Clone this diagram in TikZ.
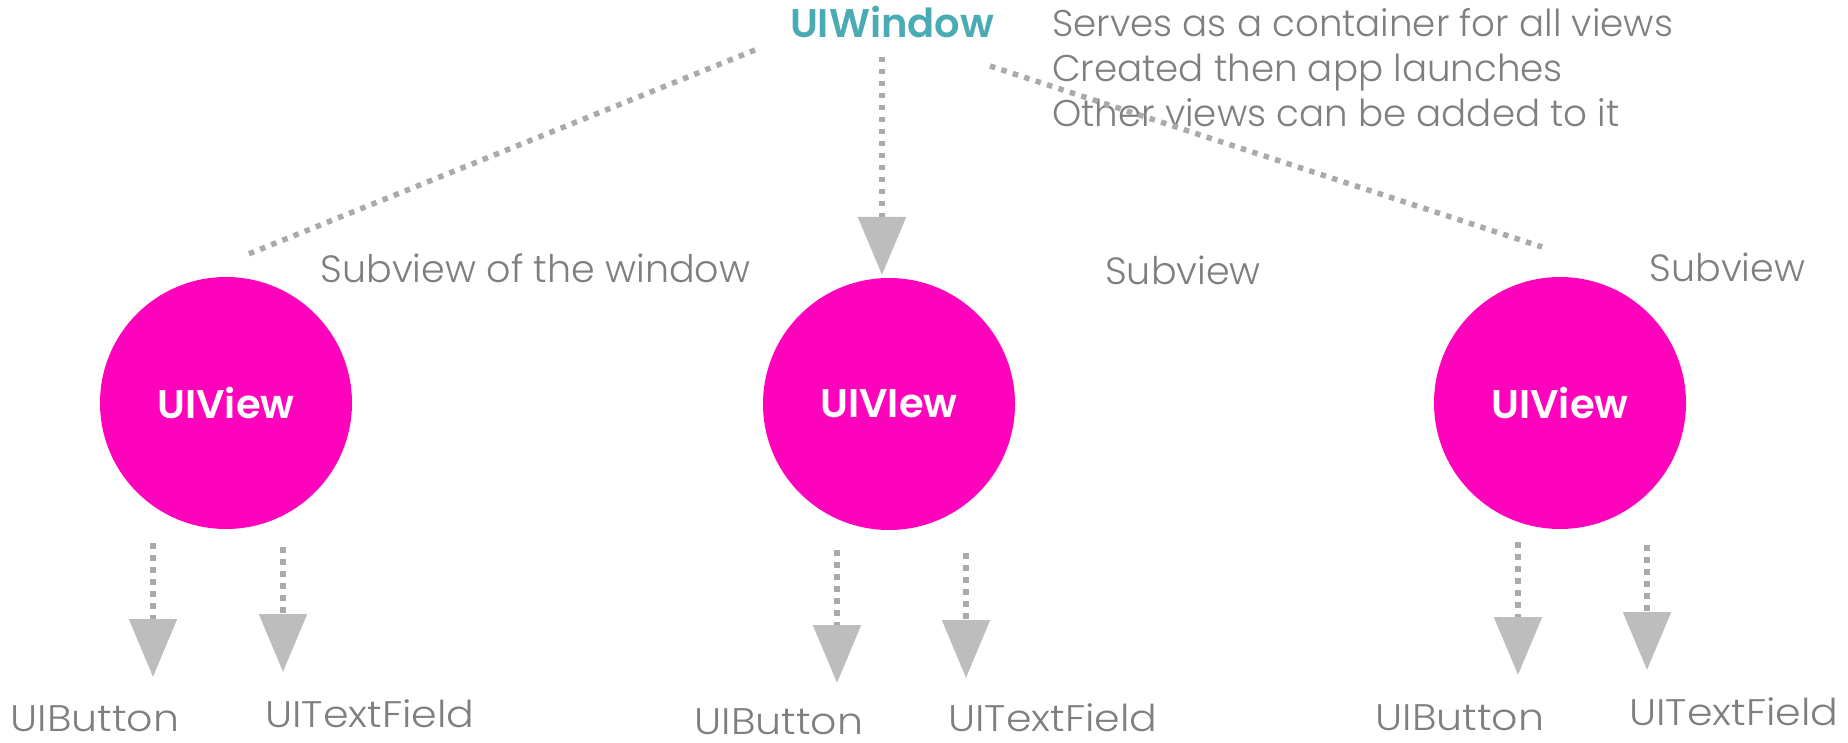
\documentclass[tikz,border=0pt]{standalone}
\usepackage{fontspec}
\setmainfont{Poppins}[UprightFont=* Light, BoldFont=* SemiBold]
\newfontfamily\ctlfont{Poppins}[UprightFont=* Light, FakeStretch=1.11]
\usetikzlibrary{arrows.meta}
\definecolor{winteal}{HTML}{4AABB4}
\definecolor{viewpink}{HTML}{FF03BC}
\definecolor{labelgray}{HTML}{7F7F7F}
\definecolor{dotgray}{HTML}{AAAAAA}
\definecolor{tipgray}{HTML}{BDBDBD}
\begin{document}
\begin{tikzpicture}[x=1pt,y=-1pt,
  view/.style={circle, fill=viewpink, minimum size=252pt, inner sep=0pt,
    text=white, font=\bfseries\fontsize{40}{48}\selectfont},
  lbl/.style={text=labelgray, font=\fontsize{38}{46}\selectfont, inner sep=0pt, anchor=base},
  ctl/.style={lbl, font=\ctlfont\fontsize{37}{44}\selectfont},
  note/.style={lbl, anchor=base west, font=\fontsize{37.2}{45}\selectfont},
  link/.style={draw=dotgray, line width=5.5pt, dash pattern=on 5.5pt off 6.5pt},
  arrowlink/.style={link, -{Triangle[width=47pt,length=58pt,color=tipgray]}},
]
\useasboundingbox (0,0) rectangle (1848,743);

% root window and its description
\node[inner sep=0pt, anchor=base, text=winteal,
      font=\bfseries\fontsize{40}{48}\selectfont] (win) at (892,38) {UIWindow};
\node[note] (n1) at (1052,36.5) {Serves as a container for all views};
\node[note] (n2) at (1052,82) {Created then app launches};
\node[note] (n3) at (1052,127) {Other views can be added to it};

% the three subviews
\node[view] (v1) at (226,403) {UIView};
\node[view] (v2) at (889,404) {UIVIew};
\node[view] (v3) at (1560,403) {UIView};

\node[lbl] (s1) at (535.5,283) {Subview of the window};
\node[lbl] (s2) at (1183,285) {Subview};
\node[lbl] (s3) at (1727.5,282) {Subview};

% links from the window
\coordinate (wl) at (755,50);
\coordinate (wm) at (882,57);
\coordinate (wr) at (990,66);
\coordinate (el) at (246,255);
\coordinate (em) at (882,275);
\coordinate (er) at (1542,247);
\draw[link] (wl) -- (el);
\draw[link] (wr) -- (er);
\draw[arrowlink] (wm) -- (em);

% controls inside each view
\node[ctl] (b1) at (95,731) {UIButton};
\node[ctl] (t1) at (370,727) {UITextField};
\node[ctl] (b2) at (779,734) {UIButton};
\node[ctl] (t2) at (1053,731) {UITextField};
\node[ctl] (b3) at (1460,730) {UIButton};
\node[ctl] (t3) at (1734,725) {UITextField};

\coordinate (b1s) at (153,543);  \coordinate (b1e) at (153,677);
\coordinate (t1s) at (283,547);  \coordinate (t1e) at (283,672);
\coordinate (b2s) at (837,550);  \coordinate (b2e) at (837,683);
\coordinate (t2s) at (966,553);  \coordinate (t2e) at (966,678);
\coordinate (b3s) at (1518,542); \coordinate (b3e) at (1518,675);
\coordinate (t3s) at (1647,545); \coordinate (t3e) at (1647,670);
\draw[arrowlink] (b1s) -- (b1e);
\draw[arrowlink] (t1s) -- (t1e);
\draw[arrowlink] (b2s) -- (b2e);
\draw[arrowlink] (t2s) -- (t2e);
\draw[arrowlink] (b3s) -- (b3e);
\draw[arrowlink] (t3s) -- (t3e);
\end{tikzpicture}
\end{document}
